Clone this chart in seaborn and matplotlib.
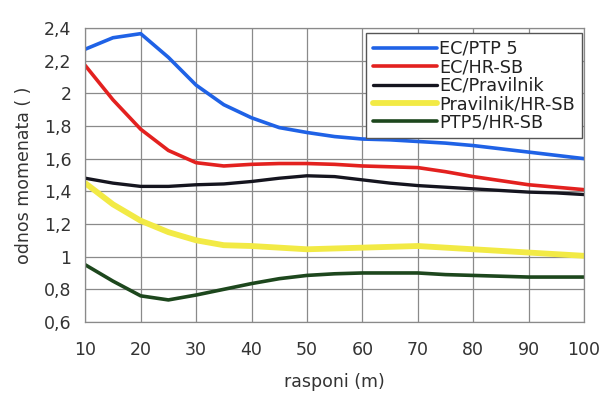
import pandas as pd
import matplotlib.pyplot as plt
import seaborn as sns

rasponi = [10, 15, 20, 25, 30, 35, 40, 45, 50, 55, 60, 65, 70, 75, 80, 85, 90, 95, 100]

ec_ptp5 = [2.27, 2.34, 2.365, 2.22, 2.05, 1.93, 1.85, 1.79, 1.76, 1.735, 1.72, 1.715, 1.705, 1.695, 1.68, 1.66, 1.64, 1.62, 1.60]
ec_hrsb = [2.17, 1.96, 1.78, 1.65, 1.575, 1.555, 1.565, 1.57, 1.57, 1.565, 1.555, 1.55, 1.545, 1.52, 1.49, 1.465, 1.44, 1.425, 1.41]
ec_pravilnik = [1.48, 1.45, 1.43, 1.43, 1.44, 1.445, 1.46, 1.48, 1.495, 1.49, 1.47, 1.45, 1.435, 1.425, 1.415, 1.405, 1.395, 1.39, 1.38]
pravilnik_hrsb = [1.45, 1.32, 1.22, 1.15, 1.10, 1.07, 1.065, 1.055, 1.045, 1.05, 1.055, 1.06, 1.065, 1.055, 1.045, 1.035, 1.025, 1.015, 1.005]
ptp5_hrsb = [0.95, 0.85, 0.76, 0.735, 0.765, 0.80, 0.835, 0.865, 0.885, 0.895, 0.90, 0.90, 0.90, 0.89, 0.885, 0.88, 0.875, 0.875, 0.875]

names = ['EC/PTP 5', 'EC/HR-SB', 'EC/Pravilnik', 'Pravilnik/HR-SB', 'PTP5/HR-SB']
colors = ['#1f62e6', '#e3211f', '#15151f', '#f2ea45', '#1d471d']
widths = [2.6, 2.6, 2.4, 4.2, 2.6]

df = pd.concat([
    pd.DataFrame({'raspon': rasponi, 'odnos': vals, 'serija': n})
    for n, vals in zip(names, [ec_ptp5, ec_hrsb, ec_pravilnik, pravilnik_hrsb, ptp5_hrsb])
])

sns.set_style('white')
plt.rcParams['font.family'] = ['DejaVu Sans Condensed', 'DejaVu Sans']

fig = plt.figure(figsize=(6.09, 4.05), dpi=100)
ax = fig.add_axes([0.14, 0.205, 0.819, 0.726])

sns.lineplot(data=df, x='raspon', y='odnos', hue='serija', hue_order=names,
             palette=colors, ax=ax, legend=True)
for line, lw in zip(ax.lines, widths):
    line.set_linewidth(lw)
    line.set_solid_capstyle('round')
    line.set_solid_joinstyle('round')

ax.set_xlim(10, 100)
ax.set_ylim(0.6, 2.4)
ax.set_xticks(range(10, 101, 10))
yt = [0.6, 0.8, 1.0, 1.2, 1.4, 1.6, 1.8, 2.0, 2.2, 2.4]
ax.set_yticks(yt)
ax.set_yticklabels([('%g' % v).replace('.', ',') for v in yt])
ax.grid(True, color='#8a8a8a', linewidth=0.9)
for s in ax.spines.values():
    s.set_color('#8a8a8a')
    s.set_linewidth(0.9)
ax.tick_params(axis='x', labelsize=12.5, colors='#333333', length=0, pad=14)
ax.tick_params(axis='y', labelsize=12.5, colors='#333333', length=0, pad=10)
ax.set_xlabel('rasponi (m)', fontsize=12.5, color='#333333', labelpad=10)
ax.set_ylabel('odnos momenata ( )', fontsize=12.5, color='#333333', labelpad=8)

leg = ax.legend(loc='upper right', bbox_to_anchor=(0.996, 0.983), fontsize=12.7,
                frameon=True, fancybox=False, edgecolor='#555555', framealpha=1,
                borderaxespad=0, handlelength=3.6, labelspacing=0.02,
                borderpad=0.4, handletextpad=0.15)
leg.get_frame().set_linewidth(1.0)
for h, lw in zip(leg.get_lines(), widths):
    h.set_linewidth(lw)
for t in leg.get_texts():
    t.set_color('#222222')

fig.savefig('out.png', dpi=100)
